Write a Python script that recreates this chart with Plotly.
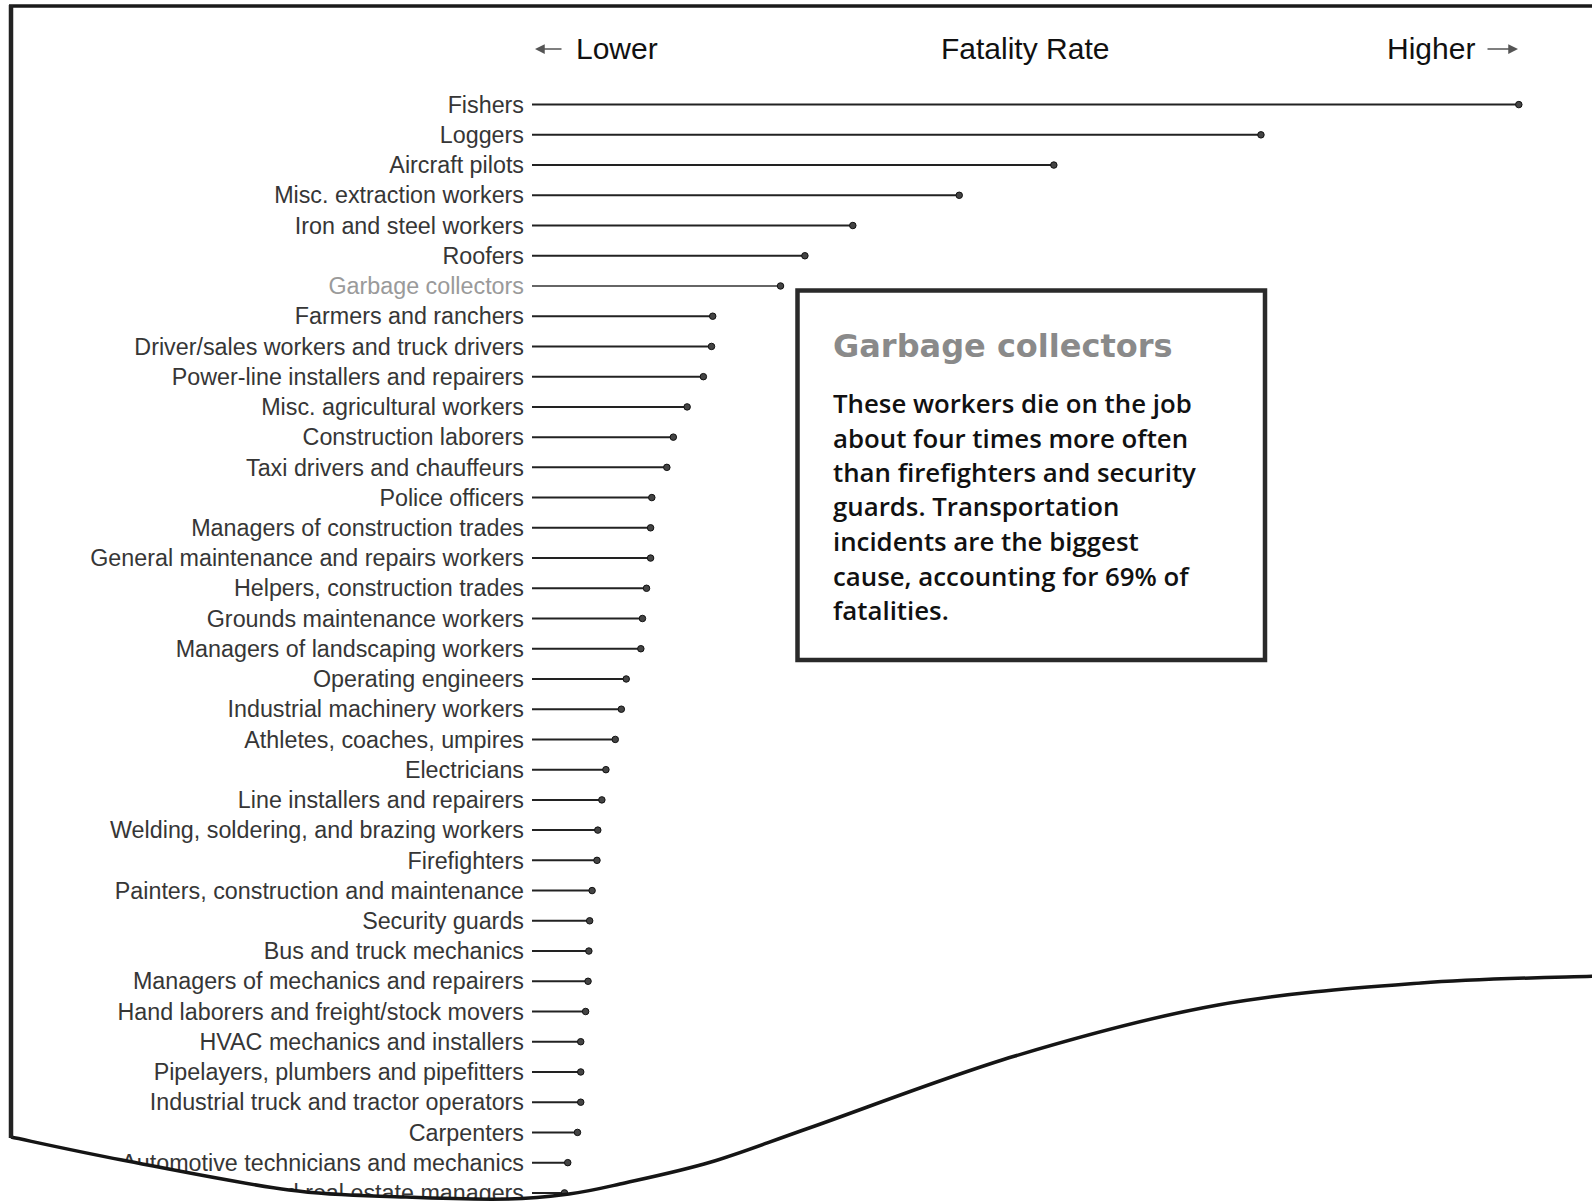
import plotly.graph_objects as go

# ---------------- data ----------------
occupations = [
    "Fishers", "Loggers", "Aircraft pilots", "Misc. extraction workers",
    "Iron and steel workers", "Roofers", "Garbage collectors",
    "Farmers and ranchers", "Driver/sales workers and truck drivers",
    "Power-line installers and repairers", "Misc. agricultural workers",
    "Construction laborers", "Taxi drivers and chauffeurs", "Police officers",
    "Managers of construction trades", "General maintenance and repairs workers",
    "Helpers, construction trades", "Grounds maintenance workers",
    "Managers of landscaping workers", "Operating engineers",
    "Industrial machinery workers", "Athletes, coaches, umpires", "Electricians",
    "Line installers and repairers", "Welding, soldering, and brazing workers",
    "Firefighters", "Painters, construction and maintenance", "Security guards",
    "Bus and truck mechanics", "Managers of mechanics and repairers",
    "Hand laborers and freight/stock movers", "HVAC mechanics and installers",
    "Pipelayers, plumbers and pipefitters", "Industrial truck and tractor operators",
    "Carpenters", "Automotive technicians and mechanics",
    "Property and real estate managers",
]
fatality_rate = [
    121.5, 89.75, 64.25, 52.6, 39.5, 33.6, 30.6, 22.25, 22.1, 21.1, 19.1,
    17.4, 16.6, 14.75, 14.6, 14.6, 14.1, 13.6, 13.4, 11.6, 11.0, 10.25, 9.1,
    8.6, 8.1, 8.0, 7.4, 7.1, 7.0, 6.9, 6.6, 6.0, 6.0, 6.0, 5.6, 4.4, 4.0,
]
highlight = "Garbage collectors"
header_left = "Lower"
header_mid = "Fatality Rate"
header_right = "Higher"
box_title = "Garbage collectors"
box_lines = [
    "These workers die on the job",
    "about four times more often",
    "than firefighters and security",
    "guards. Transportation",
    "incidents are the biggest",
    "cause, accounting for 69% of",
    "fatalities.",
]

# ---------------- layout geometry (screen pixels) ----------------
FW, FH = 1592, 1202
ML, MT = 532, 90
MR, MB = 32, 0
PW, PH = FW - ML - MR, FH - MT - MB
PX_PER_UNIT = 8.122
ROW0, ROWSTEP = 104.6, 30.23


def xp(px):
    return (px - ML) / PW


def yp(py):
    return 1 - (py - MT) / PH


idx = list(range(len(occupations)))

lx, ly, gx, gy = [], [], [], []
for i, (name, v) in enumerate(zip(occupations, fatality_rate)):
    if name == highlight:
        gx += [0, v, None]
        gy += [i, i, None]
    else:
        lx += [0, v, None]
        ly += [i, i, None]

fig = go.Figure()
fig.add_trace(go.Scatter(x=lx, y=ly, mode="lines",
                         line=dict(color="#222222", width=2),
                         hoverinfo="skip", showlegend=False))
fig.add_trace(go.Scatter(x=gx, y=gy, mode="lines",
                         line=dict(color="#666666", width=2),
                         hoverinfo="skip", showlegend=False))
fig.add_trace(go.Scatter(x=fatality_rate, y=idx, mode="markers",
                         marker=dict(size=6.5, color="#444444",
                                     line=dict(color="#111111", width=1)),
                         hoverinfo="skip", showlegend=False))

ticktext = [
    f"<span style='color:#9a9a9a'>{n}</span>" if n == highlight else n
    for n in occupations
]

top_idx = (MT - ROW0) / ROWSTEP
bot_idx = (FH - MB - ROW0) / ROWSTEP

fig.update_layout(
    width=FW, height=FH,
    margin=dict(l=ML, r=MR, t=MT, b=MB, pad=0, autoexpand=False),
    paper_bgcolor="white", plot_bgcolor="white",
    xaxis=dict(range=[0, PW / PX_PER_UNIT], visible=False, fixedrange=True,
               automargin=False),
    yaxis=dict(range=[bot_idx, top_idx], tickvals=idx, ticktext=ticktext,
               showgrid=False, zeroline=False, showline=False, ticks="",
               ticklabelstandoff=7, ticklabeloverflow="allow", automargin=False,
               tickfont=dict(family="Liberation Sans, Arial", size=23.3, color="#363636"),
               fixedrange=True),
    font=dict(family="Liberation Sans, Arial"),
)

# header
hdr_font = dict(family="Liberation Sans, Arial", size=30, color="#111111")
fig.add_annotation(xref="paper", yref="paper", x=xp(574), y=yp(49),
                   xanchor="left", yanchor="middle", showarrow=False,
                   text=header_left, font=hdr_font)
fig.add_annotation(xref="paper", yref="paper", x=xp(1025), y=yp(49),
                   xanchor="center", yanchor="middle", showarrow=False,
                   text=header_mid, font=hdr_font)
fig.add_annotation(xref="paper", yref="paper", x=xp(1477), y=yp(49),
                   xanchor="right", yanchor="middle", showarrow=False,
                   text=header_right, font=hdr_font)
# header arrows
fig.add_annotation(xref="paper", yref="paper", x=xp(535), y=yp(49),
                   ax=28, ay=0, showarrow=True, arrowhead=2, arrowsize=1.3,
                   arrowwidth=1.5, arrowcolor="#555555", text="")
fig.add_annotation(xref="paper", yref="paper", x=xp(1518), y=yp(49),
                   ax=-32, ay=0, showarrow=True, arrowhead=2, arrowsize=1.3,
                   arrowwidth=1.5, arrowcolor="#555555", text="")

# annotation box
fig.add_shape(type="rect", xref="paper", yref="paper",
              x0=xp(797.5), x1=xp(1265), y0=yp(290.5), y1=yp(660),
              line=dict(color="#2a2a2a", width=4.5), fillcolor="white")
fig.add_annotation(xref="paper", yref="paper", x=xp(831), y=yp(346),
                   xanchor="left", yanchor="middle", showarrow=False,
                   text=f"<b>{box_title}</b>",
                   font=dict(family="DejaVu Sans", size=32, color="#8a8a8a"))
for k, line in enumerate(box_lines):
    fig.add_annotation(xref="paper", yref="paper", x=xp(831), y=yp(403 + 34.5 * k),
                       xanchor="left", yanchor="middle", showarrow=False,
                       text=line,
                       font=dict(family="Open Sans", size=25.8, color="#111111", weight=600))

# torn-paper frame
curve_pts = [(11, 1137), (122, 1160), (289, 1190), (406, 1197), (508, 1199),
             (569, 1194), (620, 1184), (711, 1162), (812, 1127), (1015, 1056),
             (1218, 1005), (1421, 983), (1600, 976)]


def catmull(points):
    segs = []
    n = len(points)
    for i in range(n - 1):
        p0 = points[i - 1] if i > 0 else points[i]
        p1 = points[i]
        p2 = points[i + 1]
        p3 = points[i + 2] if i + 2 < n else points[i + 1]
        c1 = (p1[0] + (p2[0] - p0[0]) / 6, p1[1] + (p2[1] - p0[1]) / 6)
        c2 = (p2[0] - (p3[0] - p1[0]) / 6, p2[1] - (p3[1] - p1[1]) / 6)
        segs.append((c1, c2, p2))
    return segs


def P(pt):
    return f"{xp(pt[0]):.5f},{yp(pt[1]):.5f}"


segs = catmull(curve_pts)
curve_path = "M " + P(curve_pts[0]) + " " + " ".join(
    f"C {P(c1)} {P(c2)} {P(p2)}" for c1, c2, p2 in segs)
fill_path = curve_path + f" L {P((1600, 1215))} L {P((0, 1215))} L {P((0, 1137))} Z"

fig.add_shape(type="path", xref="paper", yref="paper", path=fill_path,
              fillcolor="white", line=dict(width=0), layer="above")
fig.add_shape(type="path", xref="paper", yref="paper", path=curve_path,
              line=dict(color="#151515", width=3.5), layer="above")
# top and left border
fig.add_shape(type="line", xref="paper", yref="paper",
              x0=xp(9), x1=xp(1600), y0=yp(6), y1=yp(6),
              line=dict(color="#1a1a1a", width=3.5), layer="above")
fig.add_shape(type="line", xref="paper", yref="paper",
              x0=xp(11), x1=xp(11), y0=yp(5), y1=yp(1138),
              line=dict(color="#222222", width=4.5), layer="above")

post = "document.body.style.margin='0';document.body.style.overflow='hidden';"
fig.write_html("out.html", config={"displayModeBar": False}, post_script=post)
